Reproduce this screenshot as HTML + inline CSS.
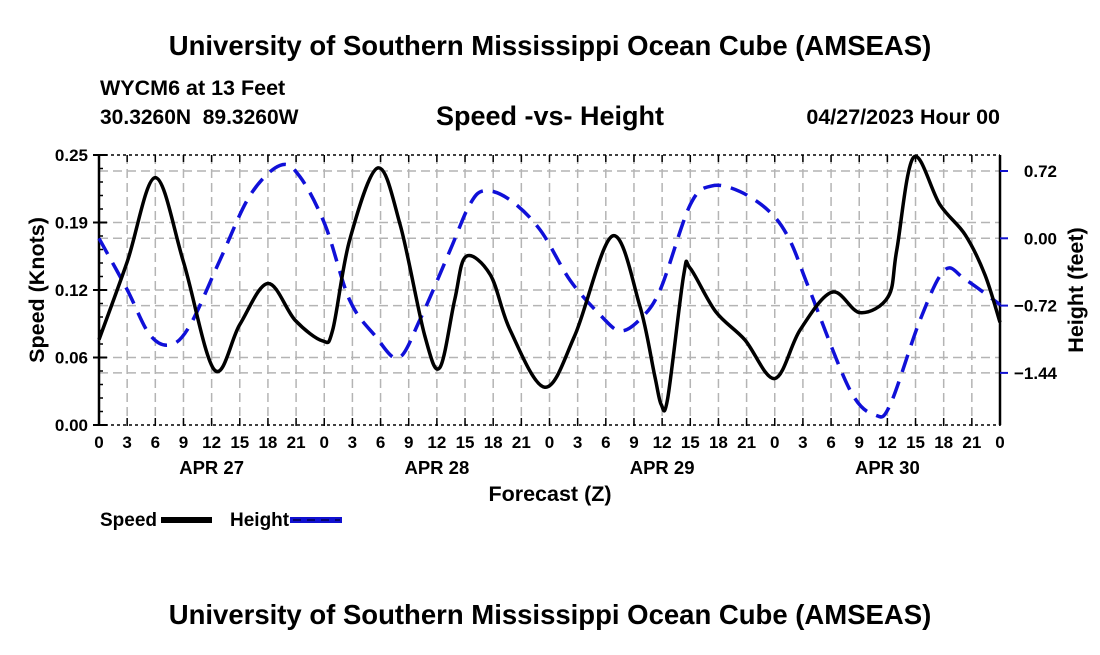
<!DOCTYPE html>
<html><head><meta charset="utf-8">
<style>
body{margin:0;background:#fff;}
svg text{font-family:"Liberation Sans",sans-serif;font-weight:bold;fill:#000;}
</style></head>
<body>
<svg id="chart" width="1100" height="650" viewBox="0 0 1100 650" xmlns="http://www.w3.org/2000/svg">
<rect width="1100" height="650" fill="#fff"/>
<text x="550" y="55" font-size="27.5" text-anchor="middle">University of Southern Mississippi Ocean Cube (AMSEAS)</text>
<text x="100" y="95" font-size="21.5">WYCM6 at 13 Feet</text>
<text x="100" y="124" font-size="21" xml:space="preserve">30.3260N  89.3260W</text>
<text x="550" y="125" font-size="27" text-anchor="middle">Speed -vs- Height</text>
<text x="1000" y="124" font-size="21.5" text-anchor="end">04/27/2023 Hour 00</text>
<g id="grid"></g>
<g id="axes"></g>
<g id="series"></g>
<text transform="translate(44,290) rotate(-90)" font-size="21.5" text-anchor="middle">Speed (Knots)</text>
<text transform="translate(1083,290) rotate(-90)" font-size="21.5" text-anchor="middle">Height (feet)</text>
<text x="550" y="501" font-size="21.5" text-anchor="middle">Forecast (Z)</text>
<g>
<text x="100" y="526" font-size="19">Speed</text>
<rect x="161" y="517" width="51" height="6" fill="#000"/>
</g>
<g>
<text x="230" y="526" font-size="19">Height</text>
<rect x="290" y="517" width="52" height="6" fill="#1010d0"/>
<line x1="293" y1="520" x2="340" y2="520" stroke="#000050" stroke-width="1.5" stroke-dasharray="8,6"/>
</g>
<text x="550" y="624" font-size="27.5" text-anchor="middle">University of Southern Mississippi Ocean Cube (AMSEAS)</text>
</svg>
<script>
const speedHours=[0,3,6,9,12.3,15,18,20.9,23.8,24.9,26.7,29.7,32.1,34.7,36.3,37.9,39.1,41.7,43.8,47.5,50.7,54.7,57.6,59.2,59.9,60.6,62.3,63,65.7,68.8,72,74.7,78.1,81.1,84.1,85,86.8,89.6,92.3,94.4,96];
const speedValues=[0.079,0.151,0.229,0.151,0.051,0.093,0.131,0.097,0.078,0.088,0.171,0.238,0.185,0.083,0.053,0.116,0.156,0.139,0.088,0.035,0.083,0.175,0.111,0.046,0.019,0.025,0.139,0.145,0.105,0.079,0.043,0.088,0.123,0.104,0.119,0.162,0.248,0.204,0.176,0.139,0.095];
const heightHours=[0,3,5.4,7.6,9.7,12.9,16.1,19.3,21.4,24.1,26.7,29.4,31.9,34.2,37.4,39.5,41.1,43.8,47,50.2,53.4,55.5,57.6,59.8,63,65.3,68.3,71.5,73.6,75.7,80,82.7,84.3,87.5,90.1,92.3,96];
const heightValues=[0,-0.55,-1.03,-1.14,-0.93,-0.23,0.46,0.78,0.66,0.14,-0.66,-1.04,-1.28,-0.87,-0.13,0.36,0.51,0.41,0.09,-0.45,-0.82,-0.99,-0.87,-0.55,0.36,0.56,0.50,0.28,-0.02,-0.55,-1.62,-1.89,-1.78,-0.87,-0.34,-0.44,-0.71];
const xTickLabels=["0","3","6","9","12","15","18","21"];
const dayLabels=["APR 27","APR 28","APR 29","APR 30"];
const speedTicks=[0,0.0625,0.125,0.1875,0.25];
const speedTickLabels=["0.00","0.06","0.12","0.19","0.25"];
const heightTicks=[0.72,0,-0.72,-1.44];
const heightTickLabels=["0.72","0.00","\u22120.72","\u22121.44"];

const L=99,R=1000,T=155,B=425;
const NS="http://www.w3.org/2000/svg";
const xS=h=>L+(R-L)*h/96;
const yS=v=>B-(B-T)*v/0.25;
const yH=v=>238.3-v*67.3/0.72;
function mk(tag,attrs,parent){const e=document.createElementNS(NS,tag);for(const k in attrs)e.setAttribute(k,attrs[k]);parent.appendChild(e);return e;}
const grid=document.getElementById('grid'),axes=document.getElementById('axes'),series=document.getElementById('series');
const gs={stroke:"#b4b4b4","stroke-width":1.5,"stroke-dasharray":"9,5"};
for(let h=3;h<96;h+=3){const l=mk('line',Object.assign({x1:xS(h),x2:xS(h),y1:T,y2:B},gs),grid);

}
speedTicks.slice(1,4).forEach(v=>{const l=mk('line',Object.assign({x1:L,x2:R,y1:yS(v),y2:yS(v)},gs),grid);

});
heightTicks.forEach(v=>{const l=mk('line',Object.assign({x1:L,x2:R,y1:yH(v),y2:yH(v)},gs),grid);

});
mk('line',{x1:L,x2:L,y1:T,y2:B,stroke:"#000","stroke-width":2.5},axes);
mk('line',{x1:R,x2:R,y1:T,y2:B,stroke:"#000","stroke-width":2.5},axes);
mk('line',{x1:L,x2:R,y1:T,y2:T,stroke:"#000","stroke-width":1.5,"stroke-dasharray":"3,3"},axes);
mk('line',{x1:L,x2:R,y1:B,y2:B,stroke:"#000","stroke-width":1.5,"stroke-dasharray":"3,3"},axes);
for(let h=0;h<=96;h+=3){
mk('line',{x1:xS(h),x2:xS(h),y1:B-7,y2:B+1,stroke:"#000","stroke-width":1.5},axes);
mk('line',{x1:xS(h),x2:xS(h),y1:T,y2:T+7,stroke:"#000","stroke-width":1.5},axes);
const t=mk('text',{x:xS(h),y:B+23,"font-size":17,"text-anchor":"middle"},axes);


t.textContent=xTickLabels[(h/3)%8];}
dayLabels.forEach((d,i)=>{const t=mk('text',{x:xS(12+24*i),y:B+49,"font-size":18.5,"text-anchor":"middle"},axes);


t.textContent=d;});
for(let v=0;v<=0.25001;v+=0.0125){mk('line',{x1:L,x2:L+4,y1:yS(v),y2:yS(v),stroke:"#000","stroke-width":1.5},axes);}
speedTicks.forEach((v,i)=>{mk('line',{x1:L-6,x2:L+8,y1:yS(v),y2:yS(v),stroke:"#000","stroke-width":2},axes);
const t=mk('text',{x:L-11,y:yS(v)+6,"font-size":17,"text-anchor":"end"},axes);


t.textContent=speedTickLabels[i];});
heightTicks.forEach((v,i)=>{mk('line',{x1:R,x2:R+8,y1:yH(v),y2:yH(v),stroke:"#1010d0","stroke-width":2},axes);
const t=mk('text',{x:1057,y:yH(v)+6,"font-size":17,"text-anchor":"end"},axes);


t.textContent=heightTickLabels[i];});
function path(xs,ys){const p=xs.map((x,i)=>[x,ys[i]]);let d=`M${p[0][0]},${p[0][1]}`;
for(let i=0;i<p.length-1;i++){const p0=p[Math.max(i-1,0)],p1=p[i],p2=p[i+1],p3=p[Math.min(i+2,p.length-1)];
d+=` C${p1[0]+(p2[0]-p0[0])/6},${p1[1]+(p2[1]-p0[1])/6} ${p2[0]-(p3[0]-p1[0])/6},${p2[1]-(p3[1]-p1[1])/6} ${p2[0]},${p2[1]}`;}return d;}
const hp=mk('path',{d:path(heightHours.map(xS),heightValues.map(yH)),fill:"none",stroke:"#1010d8","stroke-width":3.5,"stroke-dasharray":"18,10"},series);


const sp=mk('path',{d:path(speedHours.map(xS),speedValues.map(yS)),fill:"none",stroke:"#000","stroke-width":3.5,"stroke-linejoin":"round"},series);


</script>
</body></html>
